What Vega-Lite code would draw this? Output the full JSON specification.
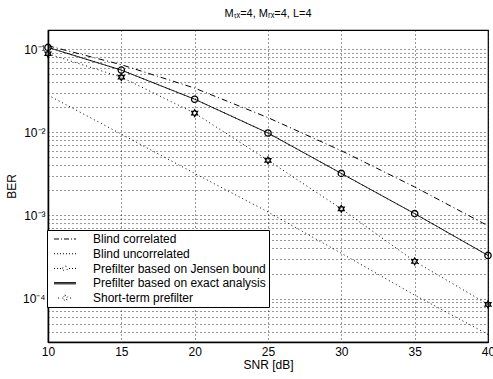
{
  "$schema": "https://vega.github.io/schema/vega-lite/v6.json",
  "width": 440,
  "height": 312,
  "autosize": {"type": "none"},
  "padding": {"left": 48, "top": 30, "right": 5, "bottom": 37},
  "background": "white",
  "title": {"text": "Mₜₓ=4, Mᵣₓ=4, L=4", "fontSize": 11, "font": "Liberation Sans", "fontWeight": "normal", "offset": 11, "color": "black"},
  "config": {
    "view": {"stroke": "black", "strokeWidth": 1.2},
    "font": "Liberation Sans",
    "axis": {
      "labelFont": "Liberation Sans",
      "titleFont": "Liberation Sans",
      "labelFontSize": 12,
      "titleFontSize": 12,
      "titleFontWeight": "normal",
      "labelColor": "black",
      "titleColor": "black",
      "domainColor": "black",
      "domainWidth": 1.5,
      "grid": true,
      "gridColor": "#000",
      "gridDash": [1, 3],
      "gridOpacity": 0.9,
      "gridWidth": 0.9,
      "ticks": false,
      "labelOverlap": false,
      "labelFlush": false
    }
  },
  "data": {
    "values": [
      {"series": "Blind correlated", "snr": 10, "ber": 0.11},
      {"series": "Blind correlated", "snr": 15, "ber": 0.065},
      {"series": "Blind correlated", "snr": 20, "ber": 0.034},
      {"series": "Blind correlated", "snr": 25, "ber": 0.015},
      {"series": "Blind correlated", "snr": 30, "ber": 0.006},
      {"series": "Blind correlated", "snr": 35, "ber": 0.0022},
      {"series": "Blind correlated", "snr": 40, "ber": 0.00075},
      {"series": "Blind uncorrelated", "snr": 10, "ber": 0.028},
      {"series": "Blind uncorrelated", "snr": 15, "ber": 0.0095},
      {"series": "Blind uncorrelated", "snr": 20, "ber": 0.0032},
      {"series": "Blind uncorrelated", "snr": 25, "ber": 0.0011},
      {"series": "Blind uncorrelated", "snr": 30, "ber": 0.00035},
      {"series": "Blind uncorrelated", "snr": 35, "ber": 0.00011},
      {"series": "Blind uncorrelated", "snr": 40, "ber": 0.000037},
      {"series": "Prefilter based on Jensen bound", "snr": 10, "ber": 0.105},
      {"series": "Prefilter based on Jensen bound", "snr": 15, "ber": 0.056},
      {"series": "Prefilter based on Jensen bound", "snr": 20, "ber": 0.025},
      {"series": "Prefilter based on Jensen bound", "snr": 25, "ber": 0.0098},
      {"series": "Prefilter based on Jensen bound", "snr": 30, "ber": 0.0032},
      {"series": "Prefilter based on Jensen bound", "snr": 35, "ber": 0.00105},
      {"series": "Prefilter based on Jensen bound", "snr": 40, "ber": 0.00033},
      {"series": "Prefilter based on exact analysis", "snr": 10, "ber": 0.105},
      {"series": "Prefilter based on exact analysis", "snr": 15, "ber": 0.056},
      {"series": "Prefilter based on exact analysis", "snr": 20, "ber": 0.025},
      {"series": "Prefilter based on exact analysis", "snr": 25, "ber": 0.0098},
      {"series": "Prefilter based on exact analysis", "snr": 30, "ber": 0.0032},
      {"series": "Prefilter based on exact analysis", "snr": 35, "ber": 0.00105},
      {"series": "Prefilter based on exact analysis", "snr": 40, "ber": 0.00033},
      {"series": "Short-term prefilter", "snr": 10, "ber": 0.088},
      {"series": "Short-term prefilter", "snr": 15, "ber": 0.046},
      {"series": "Short-term prefilter", "snr": 20, "ber": 0.017},
      {"series": "Short-term prefilter", "snr": 25, "ber": 0.0046},
      {"series": "Short-term prefilter", "snr": 30, "ber": 0.0012},
      {"series": "Short-term prefilter", "snr": 35, "ber": 0.00028},
      {"series": "Short-term prefilter", "snr": 40, "ber": 0.000085}
    ]
  },
  "layer": [
    {
      "mark": {"type": "line", "color": "black", "clip": true},
      "encoding": {
        "x": {
          "field": "snr", "type": "quantitative",
          "scale": {"domain": [10, 40], "nice": false, "zero": false},
          "axis": {"values": [10, 15, 20, 25, 30, 35, 40], "title": "SNR [dB]", "labelPadding": 4, "titlePadding": 2}
        },
        "y": {
          "field": "ber", "type": "quantitative",
          "scale": {"type": "log", "domain": [0.00003, 0.17], "nice": false},
          "axis": {
            "title": "BER",
            "titlePadding": 4,
            "labelPadding": 3,
            "values": [0.00003, 0.00004, 0.00005, 0.00006, 0.00007, 0.00008, 0.00009, 0.0001, 0.0002, 0.0003, 0.0004, 0.0005, 0.0006, 0.0007, 0.0008, 0.0009, 0.001, 0.002, 0.003, 0.004, 0.005, 0.006, 0.007, 0.008, 0.009, 0.01, 0.02, 0.03, 0.04, 0.05, 0.06, 0.07, 0.08, 0.09, 0.1],
            "labelExpr": "abs(log(datum.value)/LN10 - round(log(datum.value)/LN10)) < 0.001 ? '10' + (round(log(datum.value)/LN10) == -1 ? '⁻¹' : round(log(datum.value)/LN10) == -2 ? '⁻²' : round(log(datum.value)/LN10) == -3 ? '⁻³' : '⁻⁴') : ''"
          }
        },
        "strokeDash": {
          "field": "series", "type": "nominal",
          "scale": {
            "domain": ["Blind correlated", "Blind uncorrelated", "Prefilter based on Jensen bound", "Prefilter based on exact analysis", "Short-term prefilter"],
            "range": [[6, 3, 1, 3], [1, 3], [1, 3], [1, 0], [1, 3]]
          },
          "legend": {
            "title": null,
            "orient": "none",
            "legendX": -1,
            "legendY": 200,
            "fillColor": "white",
            "strokeColor": "black",
            "padding": 3,
            "labelFont": "Liberation Sans",
            "labelFontSize": 12,
            "labelColor": "black",
            "labelLimit": 300,
            "rowPadding": 2.75,
            "symbolSize": 64,
            "symbolOffset": 9,
            "labelOffset": 22,
            "symbolStrokeColor": "black",
            "symbolStrokeWidth": 1,
            "encode": {
              "symbols": {
                "update": {
                  "shape": {"signal": "datum.value == 'Blind correlated' ? 'M-2.75,0H-1.5M-1,0H-0.75M-0.25,0H1M1.5,0H1.75M2.25,0H2.75' : datum.value == 'Blind uncorrelated' ? 'M-2.75,0h0.25M-2,0h0.25M-1.25,0h0.25M-0.5,0h0.25M0.25,0h0.25M1,0h0.25M1.75,0h0.25M2.5,0h0.25' : datum.value == 'Prefilter based on Jensen bound' ? 'M-2.75,0h0.25M-2,0h0.25M-1.25,0h0.25M-0.6,0A0.6,0.6,0,1,1,0.6,0A0.6,0.6,0,1,1,-0.6,0ZM1,0h0.25M1.75,0h0.25M2.5,0h0.25' : datum.value == 'Prefilter based on exact analysis' ? 'M-2.75,-0.15H2.75M-2.75,0.15H2.75' : 'M-1.75,0h0.25M0,-0.8L0.231,-0.4L0.693,-0.4L0.462,0L0.693,0.4L0.231,0.4L0,0.8L-0.231,0.4L-0.693,0.4L-0.462,0L-0.693,-0.4L-0.231,-0.4ZM1.25,0h0.25'"},
                  "strokeDash": {"value": []},
                  "fill": {"value": "transparent"},
                  "stroke": {"value": "black"}
                }
              }
            }
          }
        },
        "strokeWidth": {
          "field": "series", "type": "nominal",
          "scale": {
            "domain": ["Blind correlated", "Blind uncorrelated", "Prefilter based on Jensen bound", "Prefilter based on exact analysis", "Short-term prefilter"],
            "range": [1, 1, 1, 2.3, 1]
          },
          "legend": null
        }
      }
    },
    {
      "transform": [{"filter": "datum.series == 'Prefilter based on Jensen bound' || datum.series == 'Short-term prefilter'"}],
      "mark": {"type": "point", "filled": false, "color": "black", "strokeWidth": 1.3, "opacity": 1, "clip": false},
      "encoding": {
        "x": {"field": "snr", "type": "quantitative"},
        "y": {"field": "ber", "type": "quantitative"},
        "shape": {
          "field": "series", "type": "nominal",
          "scale": {
            "domain": ["Prefilter based on Jensen bound", "Short-term prefilter"],
            "range": ["circle", "M0,-1L0.289,-0.5L0.866,-0.5L0.577,0L0.866,0.5L0.289,0.5L0,1L-0.289,0.5L-0.866,0.5L-0.577,0L-0.866,-0.5L-0.289,-0.5Z"]
          },
          "legend": null
        },
        "size": {"condition": {"test": "datum.series == 'Short-term prefilter'", "value": 45}, "value": 40}
      }
    }
  ]
}
